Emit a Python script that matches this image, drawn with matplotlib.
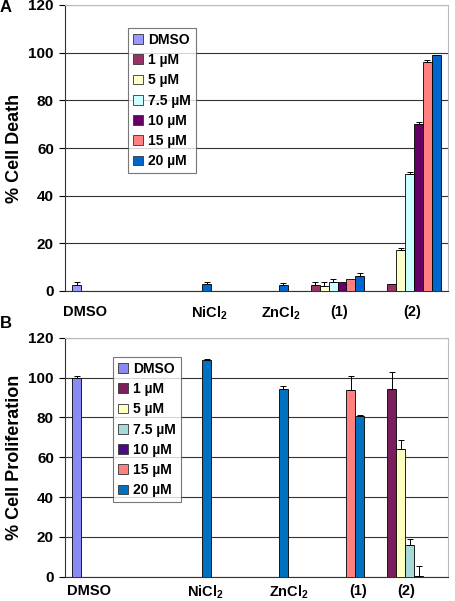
import numpy as np
import matplotlib
matplotlib.use("Agg")
import matplotlib.pyplot as plt
from matplotlib.patches import Patch

plt.rcParams['font.family'] = ['Liberation Sans', 'DejaVu Sans']
plt.rcParams['font.weight'] = 'bold'
plt.rcParams['mathtext.fontset'] = 'custom'
plt.rcParams['mathtext.rm'] = 'Liberation Sans:bold'
plt.rcParams['mathtext.default'] = 'rm'

categories = ["DMSO", "NiCl$_2$", "ZnCl$_2$", "(1)", "(2)"]
series = ["DMSO", "1 µM", "5 µM", "7.5 µM", "10 µM", "15 µM", "20 µM"]
colors_a = ["#9999FF", "#993366", "#FFFFCC", "#CCFFFF", "#660066", "#FF8080", "#0066CC"]
colors_b = ["#8A8AF5", "#7A1F5C", "#FFFFC0", "#A6DADA", "#4A0A80", "#FF8080", "#0070C0"]

N = None
# % Cell Death (panel A): rows = series, cols = categories
death = [
    [2.4, N, N, N, N],
    [N, N, N, 2.4, 2.8],
    [N, N, N, 2.2, 17.2],
    [N, N, N, 3.9, 49.0],
    [N, N, N, 3.9, 70.1],
    [N, N, N, 4.9, 96.1],
    [N, 3.1, 2.5, 6.3, 98.9],
]
death_err = [
    [1.5, N, N, N, N],
    [N, N, N, 1.5, 0.3],
    [N, N, N, 1.7, 1.0],
    [N, N, N, 1.0, 1.1],
    [N, N, N, 0.0, 1.0],
    [N, N, N, 0.0, 1.0],
    [N, 0.8, 0.7, 1.1, 0.2],
]
# % Cell Proliferation (panel B)
prolif = [
    [100.0, N, N, N, N],
    [N, N, N, N, 94.0],
    [N, N, N, N, 63.9],
    [N, N, N, N, 16.1],
    [N, N, N, N, 0.5],
    [N, N, N, 93.5, N],
    [N, 109.0, 94.0, 80.9, N],
]
prolif_err = [
    [0.7, N, N, N, N],
    [N, N, N, N, 9.0],
    [N, N, N, N, 4.8],
    [N, N, N, N, 2.7],
    [N, N, N, N, 4.7],
    [N, N, N, 7.3, N],
    [N, 0.3, 1.8, 0.3, N],
]
yticks = [0, 20, 40, 60, 80, 100, 120]
label_pos_a = [-0.24, 1.39, 2.32, 3.08, 4.03]
label_pos_b = [-0.19, 1.33, 2.42, 3.33, 3.96]

W, H = 456, 601
fig = plt.figure(figsize=(W / 100, H / 100), dpi=100)

def panel(rect, vals, errs, colors, ylabel, label_pos, xpad, letter, letter_y, legend_rect):
    ax = fig.add_axes(rect)
    x = np.arange(len(categories))
    w = 0.116
    for k in range(len(series)):
        for c in range(len(categories)):
            v = vals[k][c]
            if v is None:
                continue
            xc = x[c] + (k - 3) * w
            ax.bar(xc, v, width=w, color=colors[k], edgecolor="black", linewidth=0.6, zorder=3)
            e = errs[k][c]
            if e:
                ax.errorbar(xc, v, yerr=[[0], [e]], fmt='none', ecolor='black',
                            elinewidth=0.7, capsize=2, capthick=0.7, zorder=4)
    ax.set_xlim(-0.5, 4.5)
    ax.set_ylim(0, 120)
    ax.set_yticks(yticks)
    ax.set_yticklabels([str(t) for t in yticks], fontsize=11, fontweight='bold')
    ax.yaxis.grid(True, color="#333333", linewidth=0.8, zorder=0)
    ax.set_xticks(label_pos)
    ax.set_xticklabels(categories, fontsize=10.5, fontweight='bold')
    ax.tick_params(axis='x', length=0, pad=xpad)
    ax.tick_params(axis='y', length=4, width=0.8, direction='out', pad=4)
    for s in ['top', 'right']:
        ax.spines[s].set_color('#BBBBBB')
        ax.spines[s].set_linewidth(0.8)
    ax.spines['left'].set_color('#333333')
    ax.spines['bottom'].set_color('#333333')
    ax.set_ylabel(ylabel, fontsize=13, fontweight='bold')
    ax.yaxis.set_label_coords(-0.11, 0.5)
    handles = [Patch(facecolor=colors[k], edgecolor='#333333', linewidth=0.6) for k in range(len(series))]
    leg = ax.legend(handles, series, loc='upper left', bbox_to_anchor=legend_rect,
                    bbox_transform=fig.transFigure, fontsize=10, frameon=True,
                    fancybox=False, edgecolor='#555555', handlelength=0.7, handleheight=0.7,
                    handletextpad=0.4, labelspacing=0.45, borderpad=0.35, borderaxespad=0)
    leg.get_frame().set_linewidth(0.8)
    for t in leg.get_texts():
        t.set_fontweight('bold')
    fig.text(0.0, letter_y, letter, fontsize=12, fontweight='bold', ha='left', va='top')
    return ax

panel([65 / W, 1 - 291 / H, 383 / W, 286 / H], death, death_err, colors_a,
      "% Cell Death", label_pos_a, 10, "A", 1 - 0 / H, (128 / W, 1 - 28 / H))
panel([65 / W, 1 - 576.7 / H, 383 / W, 239 / H], prolif, prolif_err, colors_b,
      "% Cell Proliferation", label_pos_b, 5, "B", 1 - 316 / H, (113 / W, 1 - 357 / H))

fig.savefig("out.png", dpi=100)
